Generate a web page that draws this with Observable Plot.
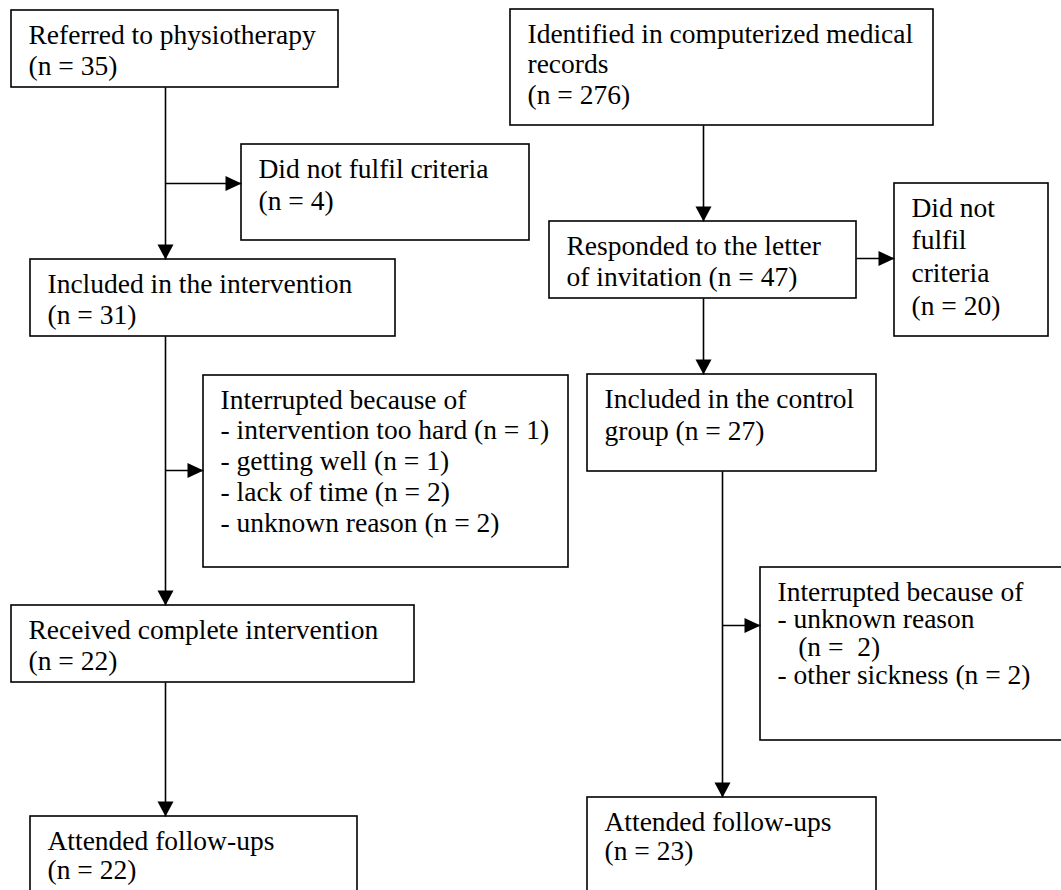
<!DOCTYPE html>
<html>
<head>
<meta charset="utf-8">
<script src="https://cdn.jsdelivr.net/npm/d3@7"></script>
<script src="https://cdn.jsdelivr.net/npm/@observablehq/plot@0.6"></script>
<style>
html, body { margin: 0; padding: 0; background: #fff; overflow: hidden; }
</style>
</head>
<body>
<div id="chart"></div>
<script>
// ---- Data: flowchart stages and participant counts ----
const boxIds = ["referred", "identified", "excluded1", "included", "responded", "excluded2",
                "control", "interrupted1", "received", "interrupted2", "followup1", "followup2"];
const boxLabels = [
  "Referred to physiotherapy\n(n = {n})",
  "Identified in computerized medical\nrecords\n(n = {n})",
  "Did not fulfil criteria\n(n = {n})",
  "Included in the intervention\n(n = {n})",
  "Responded to the letter\nof invitation (n = {n})",
  "Did not\nfulfil\ncriteria\n(n = {n})",
  "Included in the control\ngroup (n = {n})",
  "Interrupted because of\n- intervention too hard (n = 1)\n- getting well (n = 1)\n- lack of time (n = 2)\n- unknown reason (n = 2)",
  "Received complete intervention\n(n = {n})",
  "Interrupted because of\n- unknown reason\n\u00a0\u00a0\u00a0(n =\u00a0\u00a02)\n- other sickness (n = 2)",
  "Attended follow-ups\n(n = {n})",
  "Attended follow-ups\n(n = {n})"
];
const boxCounts = [35, 276, 4, 31, 47, 20, 27, null, 22, null, 22, 23];

// ---- Layout (pixel space of the figure) ----
const boxX1 = [11, 510, 241, 30, 549, 894, 587, 203, 11, 760, 30, 587];
const boxX2 = [338, 933, 529, 395, 856, 1048, 876, 568, 414, 1075, 357, 876];
const boxY1 = [10, 9, 144, 259, 221, 183, 374, 375, 605, 567, 816, 797];
const boxY2 = [87, 125, 240, 336, 298, 336, 471, 567, 682, 740, 905, 905];
const lineGap = [32, 31, 33, 32, 32, 33, 33, 31, 32, 28, 30, 30];

// main flow (downward arrows): from box, to box, trunk x
const flowFrom = ["referred", "included", "received", "identified", "responded", "control"];
const flowTo   = ["included", "received", "followup1", "responded", "control", "followup2"];
const flowX    = [165, 165, 165, 703, 703, 722];

// side exits (rightward arrows): from trunk x (or box right side), at y, to box
const exitFromX = [165, 165, null, 722];
const exitFromBox = [null, null, "responded", null];
const exitTo = ["excluded1", "interrupted1", "excluded2", "interrupted2"];
const exitY = [183, 470, 258, 625];

const FS = 27.5;
const FONT = "'Liberation Serif', 'Times New Roman', Times, serif";
const idx = id => boxIds.indexOf(id);

const boxes = boxIds.map((id, i) => ({
  id, x1: boxX1[i], x2: boxX2[i], y1: boxY1[i], y2: boxY2[i],
  text: boxLabels[i].replace("{n}", boxCounts[i]), gap: lineGap[i]
}));

const downLinks = flowFrom.map((f, i) => ({
  x1: flowX[i], x2: flowX[i], y1: boxY2[idx(f)], y2: boxY1[idx(flowTo[i])]
}));
const rightLinks = exitTo.map((t, i) => ({
  x1: exitFromBox[i] ? boxX2[idx(exitFromBox[i])] : exitFromX[i],
  x2: boxX1[idx(t)], y1: exitY[i], y2: exitY[i]
}));

const headDown = { draw(ctx) { ctx.moveTo(0, 0); ctx.lineTo(-8, -15); ctx.lineTo(8, -15); ctx.closePath(); } };
const headRight = { draw(ctx) { ctx.moveTo(0, 0); ctx.lineTo(-16, -7.5); ctx.lineTo(-16, 7.5); ctx.closePath(); } };

const marks = [
  Plot.rect(boxes, { x1: "x1", x2: "x2", y1: "y1", y2: "y2", fill: "white", stroke: "black", strokeWidth: 1.6 }),
  Plot.link([...downLinks, ...rightLinks], { x1: "x1", y1: "y1", x2: "x2", y2: "y2", stroke: "black", strokeWidth: 1.6 }),
  Plot.dot(downLinks, { x: "x2", y: "y2", symbol: headDown, fill: "black", stroke: "none" }),
  Plot.dot(rightLinks, { x: "x2", y: "y2", symbol: headRight, fill: "black", stroke: "none" }),
  ...boxes.map(b => Plot.text([b], {
    x: d => d.x1 + 17, y: d => d.y1 + 33, text: "text",
    textAnchor: "start", lineAnchor: "top",
    lineHeight: b.gap / FS, dy: -0.71 * b.gap,
    fontSize: FS, fontFamily: FONT, fill: "black"
  }))
];

const chart = Plot.plot({
  width: 1061, height: 890,
  marginTop: 0, marginRight: 0, marginBottom: 0, marginLeft: 0,
  x: { domain: [0, 1061], axis: null },
  y: { domain: [0, 890], reverse: true, axis: null },
  style: { background: "white", overflow: "hidden" },
  marks
});
document.getElementById("chart").append(chart);
</script>
</body>
</html>
